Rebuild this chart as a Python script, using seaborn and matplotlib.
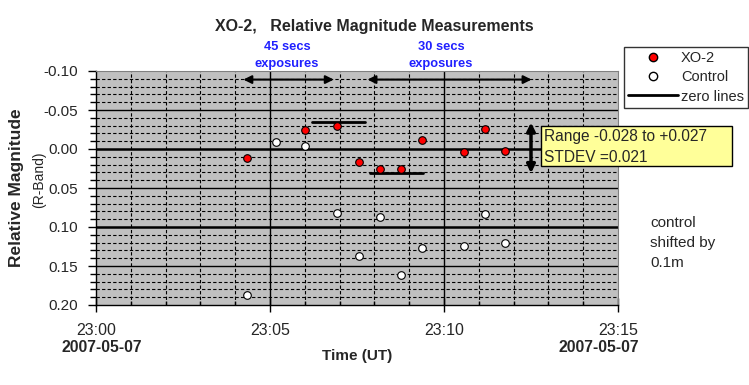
import pandas as pd
import numpy as np
import matplotlib
matplotlib.use('Agg')
import matplotlib.pyplot as plt
import matplotlib.dates as mdates
from matplotlib.lines import Line2D
from matplotlib.patches import Rectangle
import seaborn as sns

# 数据 (读自参考图)
date = '2007-05-07'
xo2_times = ['23:04:20', '23:06:01', '23:06:56', '23:07:33', '23:08:09',
             '23:08:45', '23:09:22', '23:10:34', '23:11:11', '23:11:46']
xo2_mag = [0.012, -0.024, -0.029, 0.017, 0.025, 0.026, -0.012, 0.004, -0.026, 0.002]

ctrl_times = ['23:04:20', '23:05:10', '23:06:01', '23:06:56', '23:07:33', '23:08:09',
              '23:08:45', '23:09:22', '23:10:34', '23:11:11', '23:11:46']
ctrl_mag = [0.187, -0.009, -0.004, 0.082, 0.137, 0.087, 0.161, 0.127, 0.124, 0.083, 0.121]

# zero lines: (level, start, end)
zero_levels = [-0.035, 0.031]
zero_starts = ['23:06:13', '23:07:52']
zero_ends = ['23:07:44', '23:09:24']

# exposure arrows
exp_labels = [['45 secs', 'exposures'], ['30 secs', 'exposures']]
exp_starts = ['23:04:14', '23:07:48']
exp_ends = ['23:06:50', '23:12:31']
exp_level = -0.089

range_top, range_bottom = -0.034, 0.031
range_time = '23:12:30'
range_lines = ['Range -0.028 to +0.027', 'STDEV =0.021']
note_lines = ['control', 'shifted by', '0.1m']

x_ticks = ['23:00', '23:05', '23:10', '23:15']


def ts(t):
    return pd.Timestamp(f'{date} {t}')


df_xo2 = pd.DataFrame({'time': [ts(t) for t in xo2_times], 'mag': xo2_mag})
df_ctrl = pd.DataFrame({'time': [ts(t) for t in ctrl_times], 'mag': ctrl_mag})

sns.set_style('white')
plt.rcParams['font.family'] = ['Liberation Sans', 'DejaVu Sans']
plt.rcParams['axes.unicode_minus'] = False

W, H = 749, 385
fig = plt.figure(figsize=(W / 100, H / 100), dpi=100)
ax = fig.add_axes([96 / W, 1 - 305 / H, (618 - 96) / W, (305 - 71) / H])
ax.set_facecolor('#c0c0c0')

# grid
t0, t1 = ts('23:00:00'), ts('23:15:00')
for m in range(1, 15):
    if m % 5 == 0:
        continue
    ax.axvline(t0 + pd.Timedelta(minutes=m), color='black', lw=0.8, ls=(0, (3, 2)), zorder=1)
ax.axvline(ts('23:05:00'), color='black', lw=1.0, zorder=1)
ax.axvline(ts('23:10:00'), color='black', lw=1.0, zorder=1)
for v in np.arange(-0.09, 0.20, 0.01):
    if abs(round(v / 0.05) * 0.05 - v) < 1e-6:
        continue
    ax.axhline(v, color='black', lw=0.8, ls=(0, (3, 2)), zorder=1)
for v in [-0.05, 0.05, 0.15]:
    ax.axhline(v, color='black', lw=1.0, zorder=1)
for v in [0.0, 0.10]:
    ax.axhline(v, color='black', lw=1.8, zorder=1)

sns.scatterplot(data=df_ctrl, x='time', y='mag', ax=ax, color='white', edgecolor='black',
                s=30, linewidth=0.8, zorder=3, legend=False)
sns.scatterplot(data=df_xo2, x='time', y='mag', ax=ax, color='red', edgecolor='black',
                s=30, linewidth=0.8, zorder=3, legend=False)

for lv, a, b in zip(zero_levels, zero_starts, zero_ends):
    ax.plot([ts(a), ts(b)], [lv, lv], color='black', lw=2, zorder=2)

for a, b in zip(exp_starts, exp_ends):
    ax.annotate('', xy=(ts(b), exp_level), xytext=(ts(a), exp_level),
                arrowprops=dict(arrowstyle='<|-|>', color='black', lw=1.5,
                                mutation_scale=12, shrinkA=0, shrinkB=0), zorder=4)

ax.annotate('', xy=(ts(range_time), range_bottom), xytext=(ts(range_time), range_top),
            arrowprops=dict(arrowstyle='<|-|>', color='black', lw=2.5,
                            mutation_scale=12, shrinkA=0, shrinkB=0), zorder=4)

ax.set_xlim(t0, t1)
ax.set_ylim(0.20, -0.10)
ax.set_xticks([ts(t + ':00') for t in x_ticks])
ax.set_xticks([t0 + pd.Timedelta(minutes=m) for m in range(16)], minor=True)
ax.xaxis.set_major_formatter(mdates.DateFormatter('%H:%M'))
ax.set_yticks(np.arange(-0.10, 0.201, 0.05))
ax.set_yticks(np.arange(-0.10, 0.201, 0.01), minor=True)
ax.yaxis.set_major_formatter(matplotlib.ticker.FormatStrFormatter('%.2f'))
ax.tick_params(axis='x', which='major', labelsize=11.5, direction='inout', length=10,
               width=1, color='black', bottom=True, pad=8)
ax.tick_params(axis='x', which='minor', direction='in', length=3, width=1,
               color='black', bottom=True)
ax.tick_params(axis='y', which='major', labelsize=11, direction='out', length=6,
               width=1, color='black', left=True, pad=7)
ax.tick_params(axis='y', which='minor', direction='out', length=4, width=1,
               color='black', left=True)
ax.set_xlabel('')
ax.set_ylabel('')
for s in ['left', 'bottom']:
    ax.spines[s].set_color('black')
    ax.spines[s].set_linewidth(1)
for s in ['top', 'right']:
    ax.spines[s].set_color('#808080')
    ax.spines[s].set_linewidth(0.8)

# texts
def ftext(x, y, s, **kw):
    fig.text(x / W, 1 - y / H, s, **kw)

ftext(374, 26, 'XO-2,   Relative Magnitude Measurements', ha='center', va='center',
      fontsize=11.5, fontweight='bold')
for cx, lines in zip([287, 441], exp_labels):
    for y, s in zip([47, 63.5], lines):
        ftext(cx, y, s, ha='center', va='center', fontsize=9.3, fontweight='bold',
              color='#2020ff')
ftext(17, 188, 'Relative Magnitude', rotation=90, ha='center', va='center',
      fontsize=12.5, fontweight='bold')
ftext(39.5, 180, '(R-Band)', rotation=90, ha='center', va='center', fontsize=10)
ftext(357, 356, 'Time (UT)', ha='center', va='center', fontsize=11, fontweight='bold')
ftext(101.5, 348, date, ha='center', va='center', fontsize=11.3, fontweight='bold')
ftext(599, 348, date, ha='center', va='center', fontsize=11.3, fontweight='bold')
for y, s in zip([223, 243, 263], note_lines):
    ftext(650.5, y, s, ha='left', va='center', fontsize=11)

fig.patches.append(Rectangle((540.7 / W, 1 - 166 / H), (731.7 - 540.7) / W, (166 - 125.7) / H,
                             transform=fig.transFigure, facecolor='#ffff99',
                             edgecolor='black', lw=1, zorder=5))
for y, s in zip([137, 157], range_lines):
    ftext(544.5, y, s, ha='left', va='center', fontsize=11.2, zorder=6)

handles = [
    Line2D([], [], marker='o', ls='', markerfacecolor='red', markeredgecolor='black',
           markersize=6),
    Line2D([], [], marker='o', ls='', markerfacecolor='white', markeredgecolor='black',
           markersize=6),
    Line2D([], [], color='black', lw=2),
]
leg = fig.legend(handles, ['XO-2', 'Control', 'zero lines'], loc='upper left',
                 bbox_to_anchor=(624 / W, 1 - 47 / H), borderaxespad=0, fontsize=10.5,
                 frameon=True, fancybox=False, handlelength=3.4, handletextpad=0.2,
                 labelspacing=0.35, borderpad=0.3)
leg.get_frame().set_edgecolor('black')
leg.get_frame().set_linewidth(1)

fig.savefig('out.png', dpi=100, facecolor='white')
